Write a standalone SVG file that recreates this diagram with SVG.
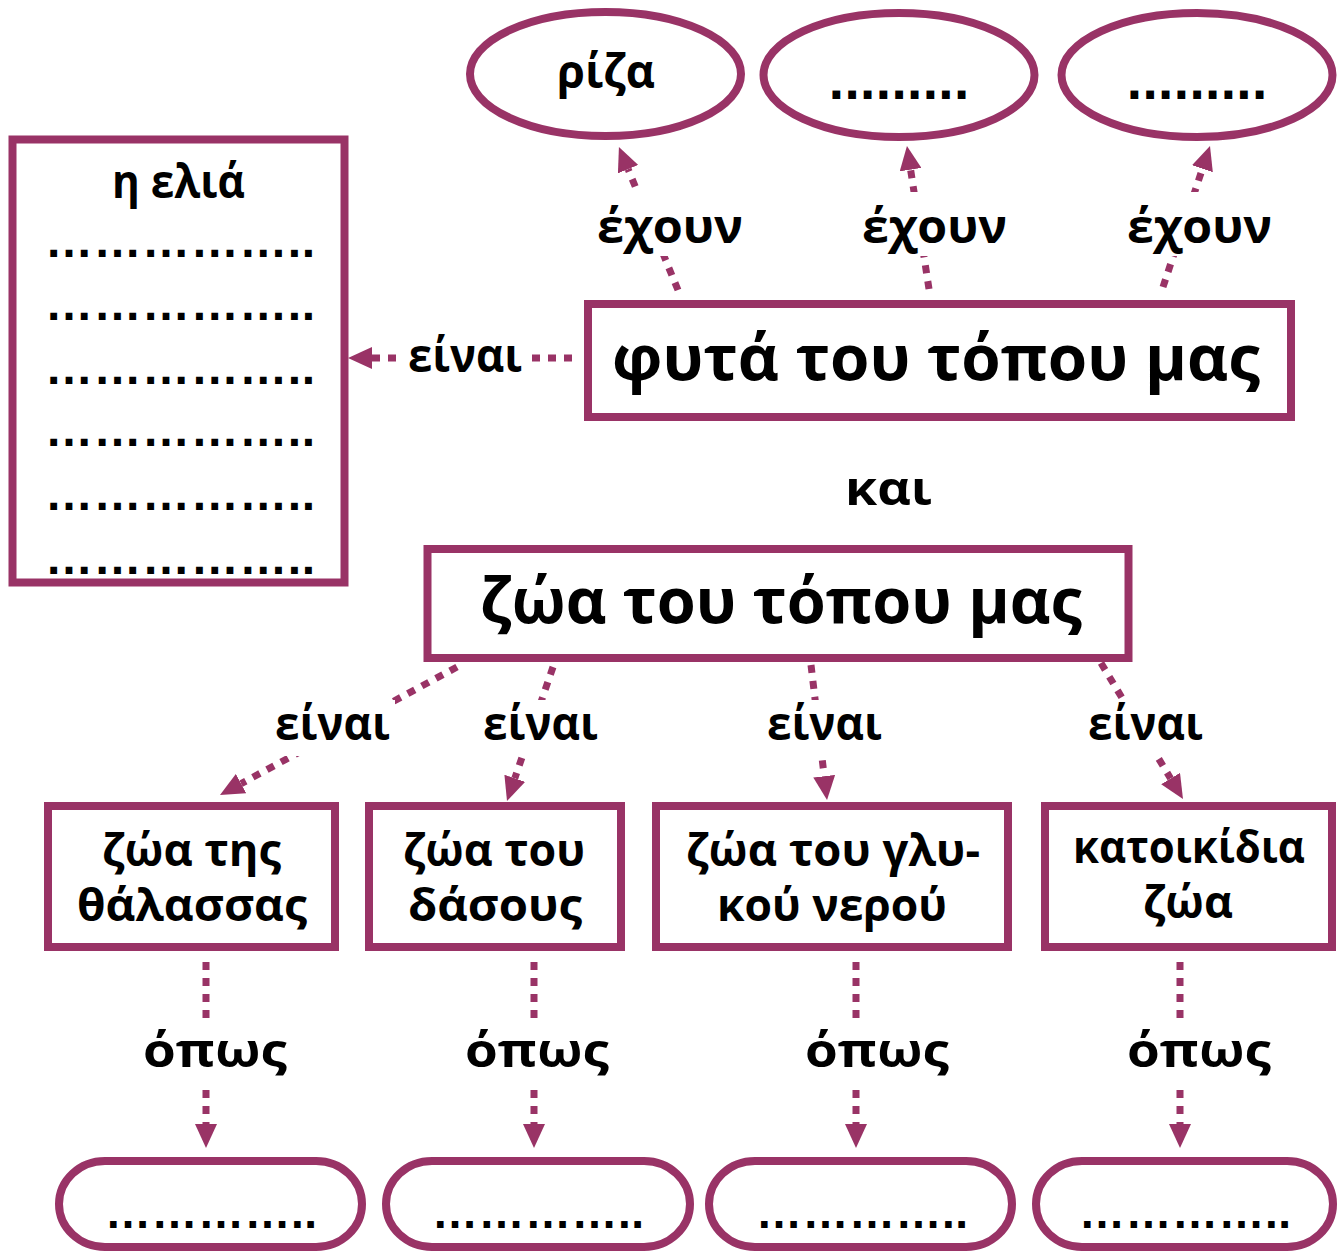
<svg xmlns="http://www.w3.org/2000/svg" width="1342" height="1251" viewBox="0 0 1342 1251">
<defs>
<style>
.n{fill:#fff;stroke:#993366;stroke-width:8}
.c{fill:none;stroke:#993366;stroke-width:7;stroke-dasharray:8 8}
.t{font-family:"Open Sans","DejaVu Sans",sans-serif;font-weight:700;fill:#000}
.l{font-size:46px}
.b{font-size:44px}
.h{font-size:62px}
.d{font-family:"Liberation Sans",Arial,sans-serif;font-weight:700;fill:#000;font-size:48px}
.p{font-family:"Liberation Sans",Arial,sans-serif;font-weight:700;fill:#000;font-size:46px}
.e{font-family:"DejaVu Sans",sans-serif;font-weight:700;fill:#000;font-size:44px}
.bg{fill:#fff}
</style>
<marker id="ah" viewBox="0 0 24 22" markerWidth="24" markerHeight="22" refX="0" refY="11" orient="auto" markerUnits="userSpaceOnUse">
<path d="M0,0 L24,11 L0,22 z" fill="#993366"/>
</marker>
</defs>
<rect width="1342" height="1251" fill="#fff"/>

<g id="connectors">
<line class="c" x1="678" y1="290" x2="628.1" y2="169.2" marker-end="url(#ah)"/>
<line class="c" x1="929" y1="289" x2="910.6" y2="169.7" marker-end="url(#ah)"/>
<line class="c" x1="1163" y1="287" x2="1202.4" y2="168.8" marker-end="url(#ah)"/>
<line class="c" x1="572" y1="358" x2="372" y2="358" marker-end="url(#ah)"/>
<line class="c" x1="457" y1="667" x2="241.1" y2="783.6" marker-end="url(#ah)"/>
<line class="c" x1="553" y1="667" x2="514.8" y2="778.3" marker-end="url(#ah)"/>
<line class="c" x1="811" y1="665" x2="824.2" y2="776.2" marker-end="url(#ah)"/>
<line class="c" x1="1101" y1="663" x2="1170.6" y2="778.5" marker-end="url(#ah)"/>
<line class="c" x1="206" y1="962" x2="206" y2="1124" marker-end="url(#ah)"/>
<line class="c" x1="534" y1="962" x2="534" y2="1124" marker-end="url(#ah)"/>
<line class="c" x1="856" y1="962" x2="856" y2="1124" marker-end="url(#ah)"/>
<line class="c" x1="1180" y1="962" x2="1180" y2="1124" marker-end="url(#ah)"/>
</g>

<g id="labels">
<rect class="bg" x="594" y="192" width="152" height="64"/>
<text class="t l" x="597" y="243" textLength="146" lengthAdjust="spacingAndGlyphs">έχουν</text>
<rect class="bg" x="859" y="192" width="152" height="64"/>
<text class="t l" x="862" y="243" textLength="145" lengthAdjust="spacingAndGlyphs">έχουν</text>
<rect class="bg" x="1124" y="192" width="152" height="64"/>
<text class="t l" x="1127" y="243" textLength="145" lengthAdjust="spacingAndGlyphs">έχουν</text>
<rect class="bg" x="404" y="330" width="122" height="56"/>
<text class="t l" x="408" y="372" textLength="114" lengthAdjust="spacingAndGlyphs">είναι</text>
<rect class="bg" x="270" y="700" width="125" height="56"/>
<text class="t l" x="275" y="740" textLength="115" lengthAdjust="spacingAndGlyphs">είναι</text>
<rect class="bg" x="478" y="700" width="125" height="56"/>
<text class="t l" x="483" y="740" textLength="115" lengthAdjust="spacingAndGlyphs">είναι</text>
<rect class="bg" x="762" y="700" width="125" height="56"/>
<text class="t l" x="767" y="740" textLength="115" lengthAdjust="spacingAndGlyphs">είναι</text>
<rect class="bg" x="1083" y="700" width="125" height="56"/>
<text class="t l" x="1088" y="740" textLength="115" lengthAdjust="spacingAndGlyphs">είναι</text>
<rect class="bg" x="138" y="1022" width="154" height="60"/>
<text class="t l" x="143" y="1067" textLength="144" lengthAdjust="spacingAndGlyphs">όπως</text>
<rect class="bg" x="460" y="1022" width="154" height="60"/>
<text class="t l" x="465" y="1067" textLength="144" lengthAdjust="spacingAndGlyphs">όπως</text>
<rect class="bg" x="800" y="1022" width="154" height="60"/>
<text class="t l" x="805" y="1067" textLength="144" lengthAdjust="spacingAndGlyphs">όπως</text>
<rect class="bg" x="1122" y="1022" width="154" height="60"/>
<text class="t l" x="1127" y="1067" textLength="144" lengthAdjust="spacingAndGlyphs">όπως</text>
<text class="t l" x="845" y="505" textLength="87" lengthAdjust="spacingAndGlyphs">και</text>
</g>

<g id="node-riza">
<ellipse class="n" cx="605.5" cy="74" rx="135.5" ry="62"/>
<text class="t l" x="557" y="88" textLength="98" lengthAdjust="spacingAndGlyphs">ρίζα</text>
</g>
<g id="node-blank1">
<ellipse class="n" cx="899" cy="75" rx="135.5" ry="62"/>
<text class="e" x="828" y="99" textLength="142">.........</text>
</g>
<g id="node-blank2">
<ellipse class="n" cx="1197" cy="75" rx="135.5" ry="62"/>
<text class="e" x="1126" y="99" textLength="142">.........</text>
</g>

<g id="node-elia">
<rect class="n" x="12.5" y="139.5" width="332" height="443"/>
<text class="t l" x="112" y="198" textLength="133" lengthAdjust="spacingAndGlyphs">η ελιά</text>
<text class="d" x="45" y="257" textLength="270">……………..</text>
<text class="d" x="45" y="320" textLength="270">……………..</text>
<text class="d" x="45" y="384" textLength="270">……………..</text>
<text class="d" x="45" y="446" textLength="270">……………..</text>
<text class="d" x="45" y="510" textLength="270">……………..</text>
<text class="d" x="45" y="574" textLength="270">……………..</text>
</g>

<g id="node-plants">
<rect class="n" x="588" y="304" width="703" height="113"/>
<text class="t h" x="612" y="380" textLength="648" lengthAdjust="spacingAndGlyphs">φυτά του τόπου μας</text>
</g>

<g id="node-animals">
<rect class="n" x="427.5" y="549" width="701" height="109"/>
<text class="t h" x="480" y="623" textLength="602" lengthAdjust="spacingAndGlyphs">ζώα του τόπου μας</text>
</g>

<g id="node-sea">
<rect class="n" x="48" y="806" width="287" height="141"/>
<text class="t b" x="102" y="866" textLength="179" lengthAdjust="spacingAndGlyphs">ζώα της</text>
<text class="t b" x="77" y="921" textLength="230" lengthAdjust="spacingAndGlyphs">θάλασσας</text>
</g>
<g id="node-forest">
<rect class="n" x="369" y="806" width="252" height="141"/>
<text class="t b" x="403" y="866" textLength="182" lengthAdjust="spacingAndGlyphs">ζώα του</text>
<text class="t b" x="408" y="921" textLength="174" lengthAdjust="spacingAndGlyphs">δάσους</text>
</g>
<g id="node-freshwater">
<rect class="n" x="656" y="806" width="352" height="141"/>
<text class="t b" x="686" y="866" textLength="294" lengthAdjust="spacingAndGlyphs">ζώα του γλυ-</text>
<text class="t b" x="717" y="921" textLength="230" lengthAdjust="spacingAndGlyphs">κού νερού</text>
</g>
<g id="node-pets">
<rect class="n" x="1045" y="806" width="287" height="141"/>
<text class="t b" x="1073" y="863" textLength="232" lengthAdjust="spacingAndGlyphs">κατοικίδια</text>
<text class="t b" x="1143" y="918" textLength="90" lengthAdjust="spacingAndGlyphs">ζώα</text>
</g>

<g id="node-ex1">
<rect class="n" x="59" y="1161" width="303" height="86" rx="46" ry="43"/>
<text class="p" x="105" y="1228" textLength="212">…………..</text>
</g>
<g id="node-ex2">
<rect class="n" x="386" y="1161" width="304" height="86" rx="46" ry="43"/>
<text class="p" x="432" y="1228" textLength="212">…………..</text>
</g>
<g id="node-ex3">
<rect class="n" x="709" y="1161" width="303" height="86" rx="46" ry="43"/>
<text class="p" x="756" y="1228" textLength="212">…………..</text>
</g>
<g id="node-ex4">
<rect class="n" x="1036" y="1161" width="297" height="86" rx="46" ry="43"/>
<text class="p" x="1079" y="1228" textLength="212">…………..</text>
</g>
</svg>
